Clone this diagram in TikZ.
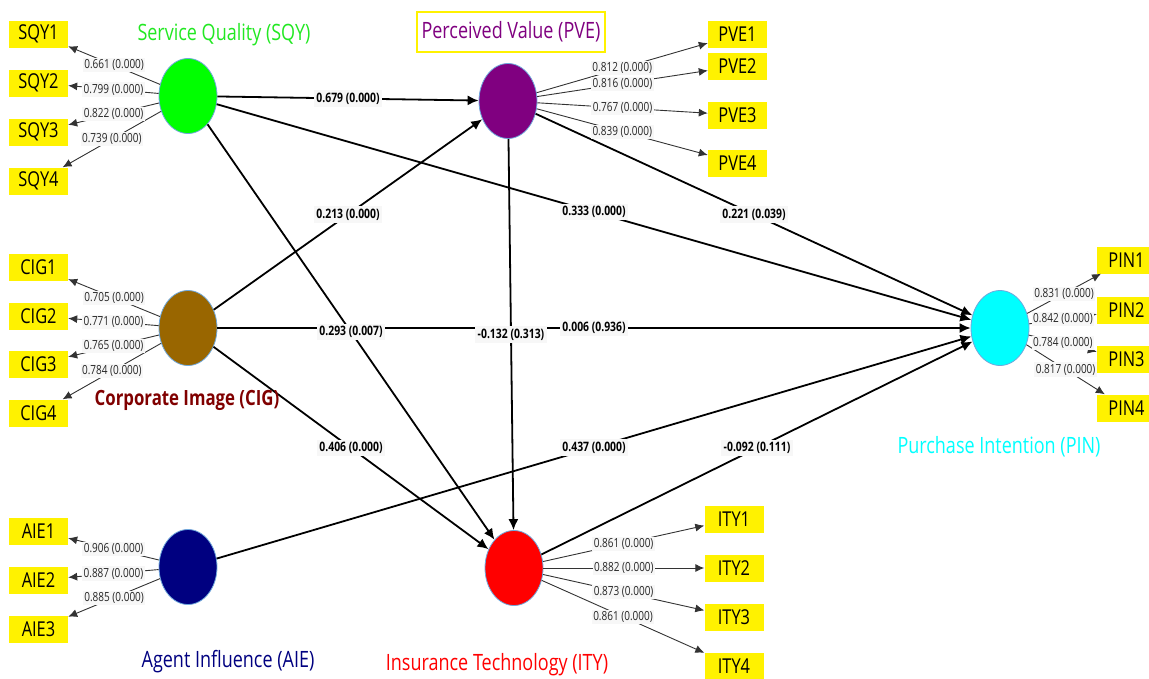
\documentclass[tikz,border=0pt]{standalone}
\usepackage{fontspec}
\setmainfont{Open Sans}[FakeStretch=0.8]
\usetikzlibrary{arrows.meta,shapes.geometric}
\definecolor{ellblue}{HTML}{6FA8DC}
\definecolor{cSQY}{HTML}{00FF00}
\definecolor{tSQY}{HTML}{22E822}
\definecolor{cCIG}{HTML}{996600}
\definecolor{tCIG}{HTML}{800000}
\definecolor{cAIE}{HTML}{000080}
\definecolor{cPVE}{HTML}{800080}
\definecolor{cPIN}{HTML}{00FFFF}
\definecolor{cITY}{HTML}{FF0000}
\definecolor{lblbg}{HTML}{F7F7F7}
\tikzset{
  lv/.style={ellipse, draw=ellblue, line width=0.8pt, minimum width=58pt, minimum height=75pt, inner sep=0pt},
  ind/.style={fill=yellow, minimum width=59pt, minimum height=27pt, inner sep=0pt, font=\fontsize{20.5}{22}\selectfont},
  pathedge/.style={line width=1.8pt, -{Latex[length=11pt,width=10pt]}},
  loadedge/.style={line width=0.9pt, draw=black!80, -{Latex[length=9pt,width=8pt]}},
  coef/.style={fill=lblbg, inner sep=2.5pt, font=\bfseries\fontsize{13}{14}\selectfont},
  ldg/.style={fill=lblbg, inner sep=1.5pt, font=\fontsize{12.5}{13}\selectfont, text=black!85},
  cname/.style={font=\fontsize{22.5}{24}\selectfont, inner sep=1pt}
}
\begin{document}
\begin{tikzpicture}[x=1pt,y=-1pt]
\useasboundingbox (0,0) rectangle (1149,678);
% latent variables
\node[lv, fill=cSQY] (sqy) at (188,96) {};
\node[lv, fill=cCIG] (cig) at (188,328) {};
\node[lv, fill=cAIE] (aie) at (188,567) {};
\node[lv, fill=cPVE] (pve) at (508,101) {};
\node[lv, fill=cPIN] (pin) at (1000,328) {};
\node[lv, fill=cITY] (ity) at (514,568) {};
% indicators
\node[ind] (sqy1) at (38.5,34) {SQY1};
\node[ind] (sqy2) at (38.5,83) {SQY2};
\node[ind] (sqy3) at (38.5,132) {SQY3};
\node[ind] (sqy4) at (38.5,181) {SQY4};
\node[ind] (cig1) at (38.5,267) {CIG1};
\node[ind] (cig2) at (38.5,316) {CIG2};
\node[ind] (cig3) at (38.5,364) {CIG3};
\node[ind] (cig4) at (38.5,413) {CIG4};
\node[ind] (aie1) at (38.5,531) {AIE1};
\node[ind] (aie2) at (38.5,580) {AIE2};
\node[ind] (aie3) at (38.5,629) {AIE3};
\node[ind] (pve1) at (737.5,34.5) {PVE1};
\node[ind] (pve2) at (737.5,66) {PVE2};
\node[ind] (pve3) at (737.5,115) {PVE3};
\node[ind] (pve4) at (737.5,163) {PVE4};
\node[ind] (pin1) at (1126.5,260) {PIN1};
\node[ind] (pin2) at (1126.5,310) {PIN2};
\node[ind] (pin3) at (1126.5,359) {PIN3};
\node[ind] (pin4) at (1126.5,408) {PIN4};
\node[ind] (ity1) at (734,519) {ITY1};
\node[ind] (ity2) at (734,568) {ITY2};
\node[ind] (ity3) at (734,617) {ITY3};
\node[ind] (ity4) at (734,666) {ITY4};
% structural paths
\draw[pathedge] (sqy) -- (pve);
\draw[pathedge] (sqy) -- (pin);
\draw[pathedge] (sqy) -- (ity);
\draw[pathedge] (cig) -- (pve);
\draw[pathedge] (cig) -- (pin);
\draw[pathedge] (cig) -- (ity);
\draw[pathedge] (aie) -- (pin);
\draw[pathedge] (pve) -- (pin);
\draw[pathedge] (pve) -- (ity);
\draw[pathedge] (ity) -- (pin);
% measurement paths
\foreach \i in {1,...,4} {\draw[loadedge] (sqy) -- (sqy\i);}
\foreach \i in {1,...,4} {\draw[loadedge] (cig) -- (cig\i);}
\foreach \i in {1,...,3} {\draw[loadedge] (aie) -- (aie\i);}
\foreach \i in {1,...,4} {\draw[loadedge] (pve) -- (pve\i);}
\foreach \i in {1,...,4} {\draw[loadedge] (pin) -- (pin\i);}
\foreach \i in {1,...,4} {\draw[loadedge] (ity) -- (ity\i);}
% path coefficient labels
\path (sqy) -- node[coef] {0.679 (0.000)} (pve);
\path (sqy) -- node[coef] {0.333 (0.000)} (pin);
\path (sqy) -- node[coef] {0.293 (0.007)} (ity);
\path (cig) -- node[coef] {0.213 (0.000)} (pve);
\path (cig) -- node[coef] {0.006 (0.936)} (pin);
\path (cig) -- node[coef] {0.406 (0.000)} (ity);
\path (aie) -- node[coef] {0.437 (0.000)} (pin);
\path (pve) -- node[coef] {0.221 (0.039)} (pin);
\path (pve) -- node[coef] {-0.132 (0.313)} (ity);
\path (ity) -- node[coef] {-0.092 (0.111)} (pin);
% loading labels
\path (sqy) -- node[ldg] {0.661 (0.000)} (sqy1);
\path (sqy) -- node[ldg] {0.799 (0.000)} (sqy2);
\path (sqy) -- node[ldg] {0.822 (0.000)} (sqy3);
\path (sqy) -- node[ldg] {0.739 (0.000)} (sqy4);
\path (cig) -- node[ldg] {0.705 (0.000)} (cig1);
\path (cig) -- node[ldg] {0.771 (0.000)} (cig2);
\path (cig) -- node[ldg] {0.765 (0.000)} (cig3);
\path (cig) -- node[ldg] {0.784 (0.000)} (cig4);
\path (aie) -- node[ldg] {0.906 (0.000)} (aie1);
\path (aie) -- node[ldg] {0.887 (0.000)} (aie2);
\path (aie) -- node[ldg] {0.885 (0.000)} (aie3);
\path (pve) -- node[ldg] {0.812 (0.000)} (pve1);
\path (pve) -- node[ldg] {0.816 (0.000)} (pve2);
\path (pve) -- node[ldg] {0.767 (0.000)} (pve3);
\path (pve) -- node[ldg] {0.839 (0.000)} (pve4);
\path (pin) -- node[ldg] {0.831 (0.000)} (pin1);
\path (pin) -- node[ldg] {0.842 (0.000)} (pin2);
\path (pin) -- node[ldg] {0.784 (0.000)} (pin3);
\path (pin) -- node[ldg] {0.817 (0.000)} (pin4);
\path (ity) -- node[ldg] {0.861 (0.000)} (ity1);
\path (ity) -- node[ldg] {0.882 (0.000)} (ity2);
\path (ity) -- node[ldg] {0.873 (0.000)} (ity3);
\path (ity) -- node[ldg] {0.861 (0.000)} (ity4);
% construct names
\node[cname, text=tSQY] (tsqy) at (224,35) {Service Quality (SQY)};
\node[cname, draw=yellow, line width=1.5pt, fill=white, minimum width=188pt, minimum height=40pt, text=cPVE] (tpve) at (511,32) {\raisebox{-2pt}{Perceived Value (PVE)}};
\node[cname, text=tCIG, font=\bfseries\fontsize{21}{23}\selectfont] (tcig) at (187,400) {Corporate Image (CIG)};
\node[cname, text=cAIE] (taie) at (228,662) {Agent Influence (AIE)};
\node[cname, text=cPIN] (tpin) at (999,447) {Purchase Intention (PIN)};
\node[cname, text=cITY] (tity) at (497,665) {Insurance Technology (ITY)};
\end{tikzpicture}
\end{document}
